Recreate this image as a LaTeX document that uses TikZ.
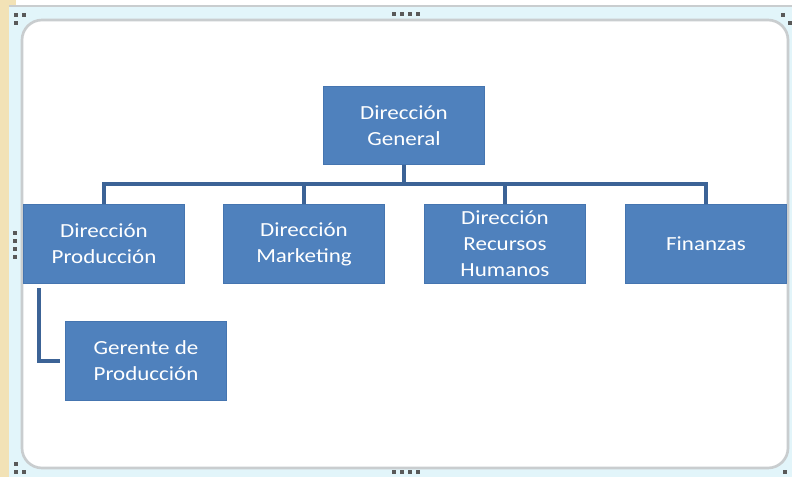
\documentclass[tikz,border=0pt]{standalone}
\usepackage{fontspec}
\setmainfont{Carlito}[FakeStretch=1.15]
\usepackage{tikz}

\definecolor{boxblue}{HTML}{4F81BD}
\definecolor{boxedge}{HTML}{4575B0}
\definecolor{linkblue}{HTML}{3C6396}
\definecolor{panecyan}{HTML}{E2F5FA}
\definecolor{paneedge}{HTML}{C9CDCF}
\definecolor{stripyellow}{HTML}{F2E2B6}

\begin{document}
\begin{tikzpicture}[x=0.75pt,y=-0.75pt,
            orgbox/.style={draw=boxedge,fill=boxblue,text=white,line width=0.6pt,
              minimum width=120.5pt,minimum height=59pt,inner sep=0pt,align=center,
              font=\fontsize{15}{19.5}\selectfont},
            link/.style={draw=linkblue,line width=3pt},
            grip/.style={fill=gray!70!black,minimum size=3pt,inner sep=0pt}]
            % screenshot frame
            \useasboundingbox (0,0) rectangle (792,477);
            \fill[white] (0,0) rectangle (792,477);
            \fill[stripyellow] (0,0) rectangle (9,477);
            \fill[stripyellow] (0,0) rectangle (16,6);
            \fill[panecyan] (9,6) rectangle (792,477);
            \draw[paneedge,line width=2pt] (9,6) -- (792,6);
            \draw[paneedge,line width=2pt,fill=white,rounded corners=15pt] (22,20) rectangle (788,468);
            \foreach \p in {(16,15),(24,15),(16,23),(16,464),(16,472),(24,472),(783,15),(790,23),(785,472)}
                \node[grip] at \p {};
            \foreach \i in {0,...,3} {
                \node[grip] at (394+\i*8,14) {};
                \node[grip] at (394+\i*8,472) {};
                \node[grip] at (15,233+\i*8) {};
            }
            % boxes
            \node[orgbox] (gen) at (404,125.5) {Dirección\\General};
            \node[orgbox] (prod) at (104,244) {Dirección\\Producción};
            \node[orgbox] (mkt) at (304,244) {Dirección\\Marketing};
            \node[orgbox] (rrhh) at (505,244) {Dirección\\Recursos\\Humanos};
            \node[orgbox] (fin) at (706,244) {Finanzas};
            \node[orgbox] (ger) at (146,361) {Gerente de\\Producción};
            % connectors
            \coordinate (bus) at (404,184);
            \coordinate (pdrop) at (39,288);
            \draw[link] (gen.south) -- (bus);
            \draw[link] (bus) -| (prod.north);
            \draw[link] (bus) -| (mkt.north);
            \draw[link] (bus) -| (rrhh.north);
            \draw[link] (bus) -| (fin.north);
            \draw[link] (pdrop) |- ([xshift=-4pt]ger.west);
        \end{tikzpicture}
\end{document}
